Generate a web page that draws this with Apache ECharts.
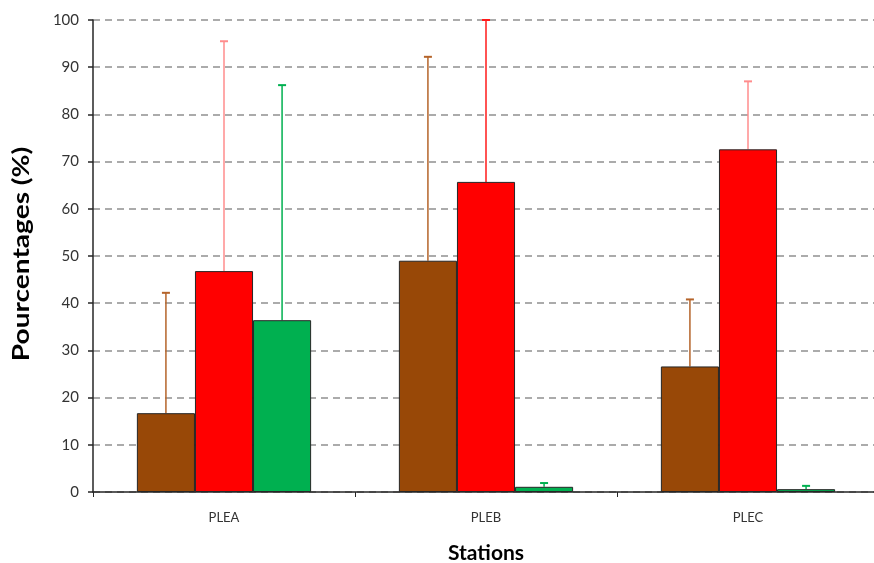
<!DOCTYPE html>
<html>
<head>
<meta charset="utf-8">
<script src="https://cdn.jsdelivr.net/npm/echarts@6/dist/echarts.min.js"></script>
<style>
  html, body { margin: 0; padding: 0; background: #fff; }
  #chart { width: 874px; height: 563px; }
</style>
</head>
<body>
<div id="chart"></div>
<script>
// Stations and mean percentages per group (three groups per station)
const stations = ['PLEA', 'PLEB', 'PLEC'];
const brownValues = [16.7, 49.0, 26.6];
const redValues = [46.8, 65.7, 72.6];
const greenValues = [36.4, 1.1, 0.6];

// Upper end of each error bar (mean + deviation)
const brownUpper = [42.2, 92.2, 40.8];
const redUpper = [95.5, 100, 87.0];
const greenUpper = [86.2, 1.9, 1.3];

const yTicks = [0, 10, 20, 30, 40, 50, 60, 70, 80, 90, 100];

const fontFamily = 'Lato, "Open Sans", sans-serif';
const barColors = ['#984807', '#FF0000', '#00B050'];
const errColors = [
  ['#B5642A', '#B5642A', '#B5642A'],
  ['#FF8C8C', '#FF1A1A', '#FF8C8C'],
  ['#00B050', '#00B050', '#00B050']
];
const categoryGap = 0.335;

const chart = echarts.init(document.getElementById('chart'), null, { renderer: 'canvas' });

function errorSeries(upper, seriesIdx) {
  return {
    type: 'custom',
    z: 1,
    data: upper.map((u, i) => [i, u]),
    renderItem: function (params, api) {
      const i = api.value(0);
      const band = api.size([1, 0])[0];
      const barW = band * (1 - categoryGap) / 3;
      const base = api.coord([i, 0]);
      const x = base[0] + (seriesIdx - 1) * barW;
      const values = [brownValues, redValues, greenValues][seriesIdx];
      const yTop = api.coord([i, api.value(1)])[1];
      const yBar = api.coord([i, values[i]])[1];
      const color = errColors[seriesIdx][i];
      const cap = 4;
      return {
        type: 'group',
        children: [
          { type: 'line', shape: { x1: x, y1: yBar, x2: x, y2: yTop }, style: { stroke: color, lineWidth: 1.5 } },
          { type: 'line', shape: { x1: x - cap, y1: yTop, x2: x + cap, y2: yTop }, style: { stroke: color, lineWidth: 2 } }
        ]
      };
    }
  };
}

function barSeries(values, color) {
  return {
    type: 'bar',
    z: 2,
    data: values,
    barGap: '0%',
    barCategoryGap: (categoryGap * 100) + '%',
    itemStyle: { color: color, borderColor: '#262626', borderWidth: 1 }
  };
}

chart.setOption({
  animation: false,
  backgroundColor: '#ffffff',
  grid: { left: 93, right: -5, top: 20, bottom: 71, outerBoundsMode: 'none', containLabel: false },
  // Vertical axis title, drawn as a graphic so it can be stretched along its length
  graphic: [{
    type: 'text',
    x: 22,
    y: 254,
    rotation: Math.PI / 2,
    scaleX: 1.22,
    style: {
      text: 'Pourcentages (%)',
      font: 'bold 23px ' + fontFamily,
      fill: '#000',
      align: 'center',
      verticalAlign: 'middle'
    }
  }],
  xAxis: {
    type: 'category',
    data: stations,
    name: 'Stations',
    nameLocation: 'middle',
    nameGap: 51,
    nameTextStyle: { fontFamily: fontFamily, fontSize: 21, fontWeight: 'bold', color: '#000' },
    axisLine: { lineStyle: { color: '#262626', width: 1.5 } },
    axisTick: { show: true, alignWithLabel: false, length: 5, lineStyle: { color: '#262626' } },
    axisLabel: { fontFamily: fontFamily, fontSize: 13, color: '#333', margin: 19 }
  },
  yAxis: {
    type: 'value',
    min: 0,
    max: 100,
    interval: 10,
    axisLine: { show: true, lineStyle: { color: '#262626', width: 1.5 } },
    axisTick: { show: true, length: 5, inside: false, lineStyle: { color: '#262626', width: 1.5 } },
    axisLabel: {
      fontFamily: fontFamily, fontSize: 15, color: '#333', margin: 14,
      formatter: v => (yTicks.indexOf(v) >= 0 ? String(v) : '')
    },
    splitLine: { show: true, lineStyle: { color: '#ABABAB', type: [7, 5], width: 2 } }
  },
  series: [
    barSeries(brownValues, barColors[0]),
    barSeries(redValues, barColors[1]),
    barSeries(greenValues, barColors[2]),
    errorSeries(brownUpper, 0),
    errorSeries(redUpper, 1),
    errorSeries(greenUpper, 2)
  ]
});
</script>
</body>
</html>
